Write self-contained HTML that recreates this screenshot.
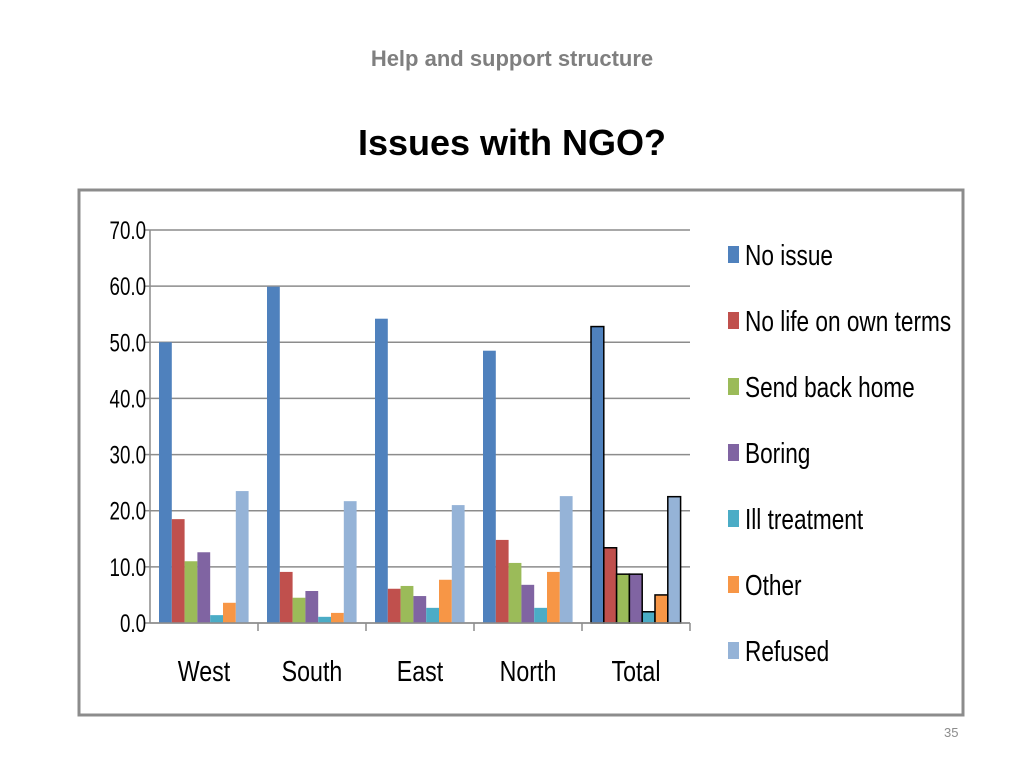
<!DOCTYPE html>
<html><head><meta charset="utf-8"><style>
body{margin:0;width:1024px;height:768px;background:#fff;font-family:"Liberation Sans",sans-serif;overflow:hidden;position:relative}
.t1{position:absolute;top:46px;left:0;width:1024px;text-align:center;font-size:22px;font-weight:bold;color:#7f7f7f}
.t2{position:absolute;top:122px;left:0;width:1024px;text-align:center;font-size:36px;font-weight:bold;color:#000}
.pg{position:absolute;left:944px;top:725px;font-size:13px;color:#8c8c8c}
svg{position:absolute;left:0;top:0}
</style></head><body>
<div class="t1">Help and support structure</div>
<div class="t2">Issues with NGO?</div>
<div class="pg">35</div>
<svg id="c" width="1024" height="768">
<rect x="79" y="190" width="884" height="525" fill="#fff" stroke="#8c8c8c" stroke-width="3"/>
</svg>
<script>
const categories=["West","South","East","North","Total"];
const seriesNames=["No issue","No life on own terms","Send back home","Boring","Ill treatment","Other","Refused"];
const noIssue=[50,59.9,54.2,48.5,52.8];
const noLife=[18.5,9.1,6.1,14.8,13.4];
const sendBack=[11,4.5,6.6,10.7,8.7];
const boring=[12.6,5.7,4.8,6.8,8.7];
const illTreat=[1.4,1.1,2.7,2.7,2.0];
const other=[3.6,1.8,7.7,9.1,5.0];
const refused=[23.5,21.7,21.0,22.6,22.5];
const yTicks=["0.0","10.0","20.0","30.0","40.0","50.0","60.0","70.0"];
const series=[noIssue,noLife,sendBack,boring,illTreat,other,refused];
const colors=["#4F81BD","#C0504D","#9BBB59","#8064A2","#4BACC6","#F79646","#95B3D7"];
const NS="http://www.w3.org/2000/svg";
const svg=document.getElementById('c');
const x0=150,x1=690,y0=623,y1=230,yMax=70;
const y=v=>y0-(v/yMax)*(y0-y1);
const gw=(x1-x0)/categories.length;
function mk(t,a){const e=document.createElementNS(NS,t);for(const k in a)e.setAttribute(k,a[k]);svg.appendChild(e);return e;}
yTicks.forEach((t,i)=>{const v=i*10;
 const g=mk('line',{x1:x0,x2:x1,y1:y(v),y2:y(v),stroke:'#8c8c8c','stroke-width':1.5});
 
 
 const tk=mk('line',{x1:x0-6,x2:x0,y1:y(v),y2:y(v),stroke:'#8c8c8c','stroke-width':1.5});
 
 
 const tx=mk('text',{x:146,y:y(v)+9,'text-anchor':'end','font-size':25,fill:'#000',transform:`translate(${146*0.2},0) scale(0.8,1)`.replace(/translate\(([\d.]+),0\)/,'translate('+(146*0.25)+',0)')});
 tx.setAttribute('transform','translate(36.5,0) scale(0.75,1)');
 tx.setAttribute('x',146/0.75);
 tx.setAttribute('x',(146-36.5)/0.75);
 tx.textContent=t;
 
 
});
const ax=mk('line',{x1:x0,x2:x0,y1:y1,y2:y0,stroke:'#8c8c8c','stroke-width':1.5});


const bw=12.8;
categories.forEach((c,i)=>{
 const gx=x0+i*gw;
 const tk=mk('line',{x1:gx+gw,x2:gx+gw,y1:y0,y2:y0+8,stroke:'#8c8c8c','stroke-width':1.5});
 
 
 series.forEach((s,j)=>{
  const r=mk('rect',{x:gx+9+j*bw,y:y(s[i]),width:bw,height:y0-y(s[i]),fill:colors[j]});
  if(c==="Total"){r.setAttribute('stroke','#000');r.setAttribute('stroke-width','1.5');}
  
  
 });
 const tx=mk('text',{x:(gx+gw/2)/0.8,y:681,'text-anchor':'middle','font-size':29,transform:'scale(0.8,1)'});
 tx.textContent=c;
 
 
});
const bx=mk('line',{x1:x0,x2:x1,y1:y0,y2:y0,stroke:'#8c8c8c','stroke-width':1.5});


seriesNames.forEach((n,j)=>{
 const ly=254+j*66;
 const r=mk('rect',{x:728,y:ly-8,width:11,height:17,fill:colors[j]});
 
 
 const t=mk('text',{x:745/0.78,y:ly+11,'font-size':29,transform:'scale(0.78,1)'});
 t.textContent=n;
 
 
});
</script>
</body></html>
